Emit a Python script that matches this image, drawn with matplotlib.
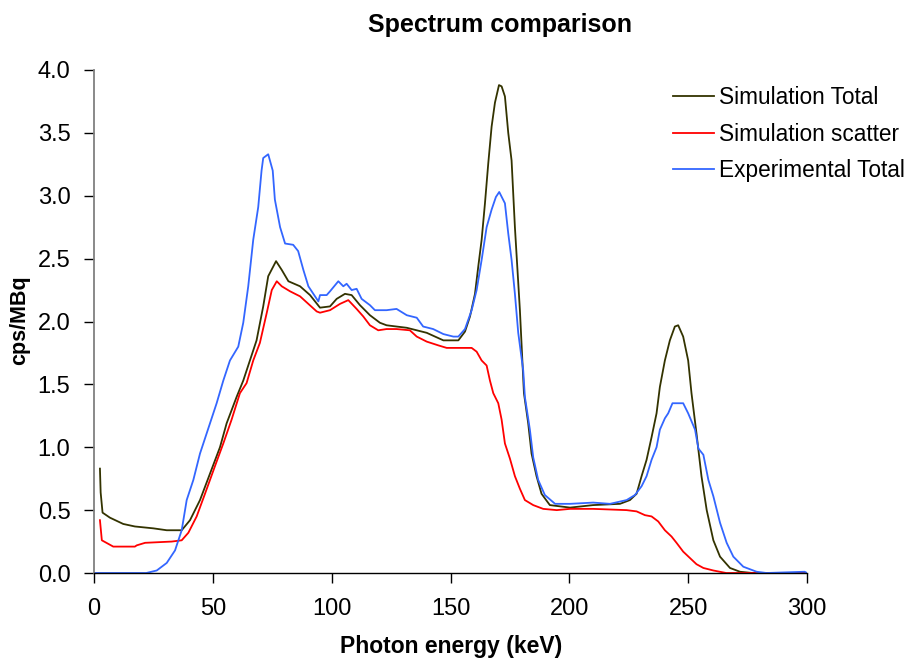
import numpy as np
import matplotlib
matplotlib.use('Agg')
import matplotlib.pyplot as plt

plt.rcParams['font.family'] = ['Liberation Sans', 'DejaVu Sans']

# Simulation Total (keV, cps/MBq)
sim_total_e = [2.5, 2.8, 3.6, 6.7, 12.3, 17.2, 25, 30.6, 36.9, 40.4, 44.6, 48.8, 53, 55.8, 60,
               62.8, 65.6, 68.4, 71.2, 73.3, 76.6, 79, 81.8, 86.7, 90.9, 95.1, 99.3, 102.1,
               105.6, 108.4, 111.9, 116.1, 120.3, 123.1, 127.3, 131.6, 135.8, 140, 143.5, 147,
               153.3, 156.1, 158.2, 160.3, 161.7, 163.1, 164.5, 165.9, 167.3, 168.7, 170.4,
               171.5, 172.9, 174.3, 175.7, 177.1, 179.2, 180.9, 182.7, 184.1, 186.2, 188.3,
               191.8, 200.3, 210, 221.3, 225.5, 228.3, 230.4, 232.5, 234.6, 236.7, 238.1,
               240.2, 242.3, 244.4, 245.8, 247.9, 250, 251.4, 253.5, 255.6, 257.8, 260.6,
               263.4, 267.6, 271.8, 277, 300]
sim_total_v = [0.83, 0.64, 0.48, 0.44, 0.39, 0.37, 0.355, 0.34, 0.34, 0.42, 0.58, 0.79, 1.00,
               1.19, 1.40, 1.53, 1.69, 1.85, 2.12, 2.36, 2.48, 2.41, 2.32, 2.28, 2.21, 2.11,
               2.12, 2.18, 2.22, 2.21, 2.13, 2.05, 1.99, 1.97, 1.96, 1.95, 1.93, 1.91, 1.88,
               1.85, 1.85, 1.92, 2.04, 2.22, 2.44, 2.65, 2.94, 3.26, 3.55, 3.74, 3.88, 3.87,
               3.79, 3.50, 3.28, 2.75, 2.09, 1.43, 1.19, 0.95, 0.77, 0.63, 0.54, 0.52, 0.54,
               0.55, 0.58, 0.63, 0.77, 0.90, 1.08, 1.27, 1.48, 1.69, 1.85, 1.96, 1.97, 1.88,
               1.69, 1.43, 1.11, 0.77, 0.50, 0.26, 0.13, 0.04, 0.01, 0.0, 0.0]

# Simulation scatter
sim_scatter_e = [2.5, 3.3, 8.1, 17.2, 18, 21.5, 32.7, 36.9, 39.7, 43.2, 46.7, 50.9, 54.4, 57.9,
                 61.4, 64.2, 67, 69.8, 72.7, 74.8, 76.9, 79, 82.5, 86.7, 90.2, 93.7, 95.1,
                 99.3, 103.5, 107, 110.5, 113.3, 116.1, 119.6, 123.1, 127.3, 132.9, 135.8, 140,
                 144.9, 148.4, 154, 158.9, 161, 163.1, 165.2, 166.6, 168, 170.1, 171.5, 172.9,
                 175, 177.1, 179.2, 181.3, 184.8, 189, 194.7, 200.3, 210, 224.1, 228.3, 231.8,
                 234.6, 237.4, 240.2, 243, 245.1, 247.9, 250.7, 253.5, 256.4, 260.6, 266, 300]
sim_scatter_v = [0.42, 0.26, 0.21, 0.21, 0.22, 0.24, 0.25, 0.26, 0.32, 0.45, 0.63, 0.85, 1.03,
                 1.22, 1.43, 1.51, 1.69, 1.83, 2.07, 2.25, 2.32, 2.28, 2.24, 2.20, 2.14, 2.08,
                 2.07, 2.09, 2.14, 2.17, 2.10, 2.04, 1.97, 1.93, 1.94, 1.94, 1.93, 1.88, 1.84,
                 1.81, 1.79, 1.79, 1.79, 1.76, 1.69, 1.65, 1.53, 1.43, 1.35, 1.22, 1.03, 0.91,
                 0.77, 0.67, 0.58, 0.54, 0.51, 0.50, 0.51, 0.51, 0.50, 0.49, 0.46, 0.45, 0.41,
                 0.34, 0.29, 0.24, 0.17, 0.12, 0.07, 0.04, 0.02, 0.0, 0.0]

# Experimental Total
exp_total_e = [0, 22, 26.4, 30.6, 34.1, 36.9, 39, 41.8, 44.6, 47.4, 51.6, 54.4, 57.2, 60.7,
               62.8, 64.9, 67, 69.1, 70.5, 71.2, 73.3, 75.2, 76.1, 78.3, 80.4, 83.8, 85.9,
               88.1, 90.2, 92.3, 94.4, 95.1, 97.9, 99.3, 102.8, 104.9, 106.3, 108.4, 110.5,
               112.6, 116.1, 118.2, 123.1, 127.3, 131.6, 135.8, 138.5, 142.7, 147, 151.2,
               153.3, 156.1, 158.9, 161, 163.1, 165.2, 167.3, 169.1, 170.5, 172.9, 174.3,
               175.7, 177.1, 178.5, 180.6, 181.3, 183.4, 184.8, 186.9, 189.7, 194, 200.3, 210,
               217.1, 224.1, 227.6, 230.4, 232.5, 234.6, 236.7, 238.1, 240.2, 241.6, 243.4,
               247.9, 250, 252.9, 254.3, 256.4, 258.5, 260.6, 263.4, 266.2, 269, 273.2, 278.8,
               283, 299, 300]
exp_total_v = [0, 0, 0.02, 0.08, 0.18, 0.34, 0.58, 0.74, 0.95, 1.11, 1.35, 1.53, 1.69, 1.80,
               1.99, 2.28, 2.65, 2.91, 3.20, 3.30, 3.33, 3.20, 2.97, 2.75, 2.62, 2.61, 2.56,
               2.41, 2.28, 2.22, 2.16, 2.21, 2.21, 2.24, 2.32, 2.28, 2.30, 2.25, 2.26, 2.18,
               2.13, 2.09, 2.09, 2.10, 2.05, 2.03, 1.96, 1.94, 1.90, 1.88, 1.88, 1.94, 2.09,
               2.25, 2.49, 2.75, 2.89, 2.99, 3.03, 2.94, 2.70, 2.49, 2.22, 1.91, 1.61, 1.40,
               1.14, 0.92, 0.74, 0.62, 0.55, 0.55, 0.56, 0.55, 0.58, 0.62, 0.69, 0.77, 0.90,
               1.00, 1.14, 1.23, 1.27, 1.35, 1.35, 1.27, 1.14, 0.99, 0.94, 0.74, 0.61, 0.40,
               0.24, 0.13, 0.05, 0.01, 0.0, 0.01, 0.0]

fig = plt.figure(figsize=(9.1, 6.59), dpi=100)
ax = fig.add_axes([94 / 910, 1 - 573 / 659, 713 / 910, 503 / 659])

ax.plot(sim_total_e, sim_total_v, color='#333300', lw=1.3, label='Simulation Total')
ax.plot(sim_scatter_e, sim_scatter_v, color='#ff0000', lw=1.3, label='Simulation scatter')
ax.plot(exp_total_e, exp_total_v, color='#3366ff', lw=1.3, label='Experimental Total')

ax.set_xlim(0, 300)
ax.set_ylim(0, 4)
ax.set_xticks(np.arange(0, 301, 50))
ax.set_yticks(np.arange(0, 4.01, 0.5))
ax.yaxis.set_major_formatter(matplotlib.ticker.FormatStrFormatter('%.1f'))

for s in ['top', 'right']:
    ax.spines[s].set_visible(False)
ax.spines['left'].set_color('#808080')
ax.spines['left'].set_linewidth(1.3)
ax.spines['bottom'].set_linewidth(1.0)
ax.tick_params(axis='x', direction='out', length=7, width=1, pad=11, labelsize=17)
ax.tick_params(axis='y', direction='out', length=7, width=1, pad=10, labelsize=17)

ax.set_xlabel('Photon energy (keV)', fontsize=16.5, fontweight='bold', va='center')
ax.set_ylabel('cps/MBq', fontsize=15.5, fontweight='bold', va='center')
ax.xaxis.set_label_coords(0.5007, (573 - 646) / 503)
ax.yaxis.set_label_coords((20 - 94) / 713, (573 - 320) / 503)
fig.text(500 / 910, 1 - 25 / 659, 'Spectrum comparison', fontsize=18,
         fontweight='bold', ha='center', va='center')

ax.legend(loc='upper left', bbox_to_anchor=(673 / 910, 1 - 86 / 659),
          bbox_transform=fig.transFigure, frameon=False, fontsize=16.3,
          handlelength=1.8, handletextpad=0.25, labelspacing=0.6,
          borderpad=0, borderaxespad=0)

fig.savefig('out.png', dpi=100)
